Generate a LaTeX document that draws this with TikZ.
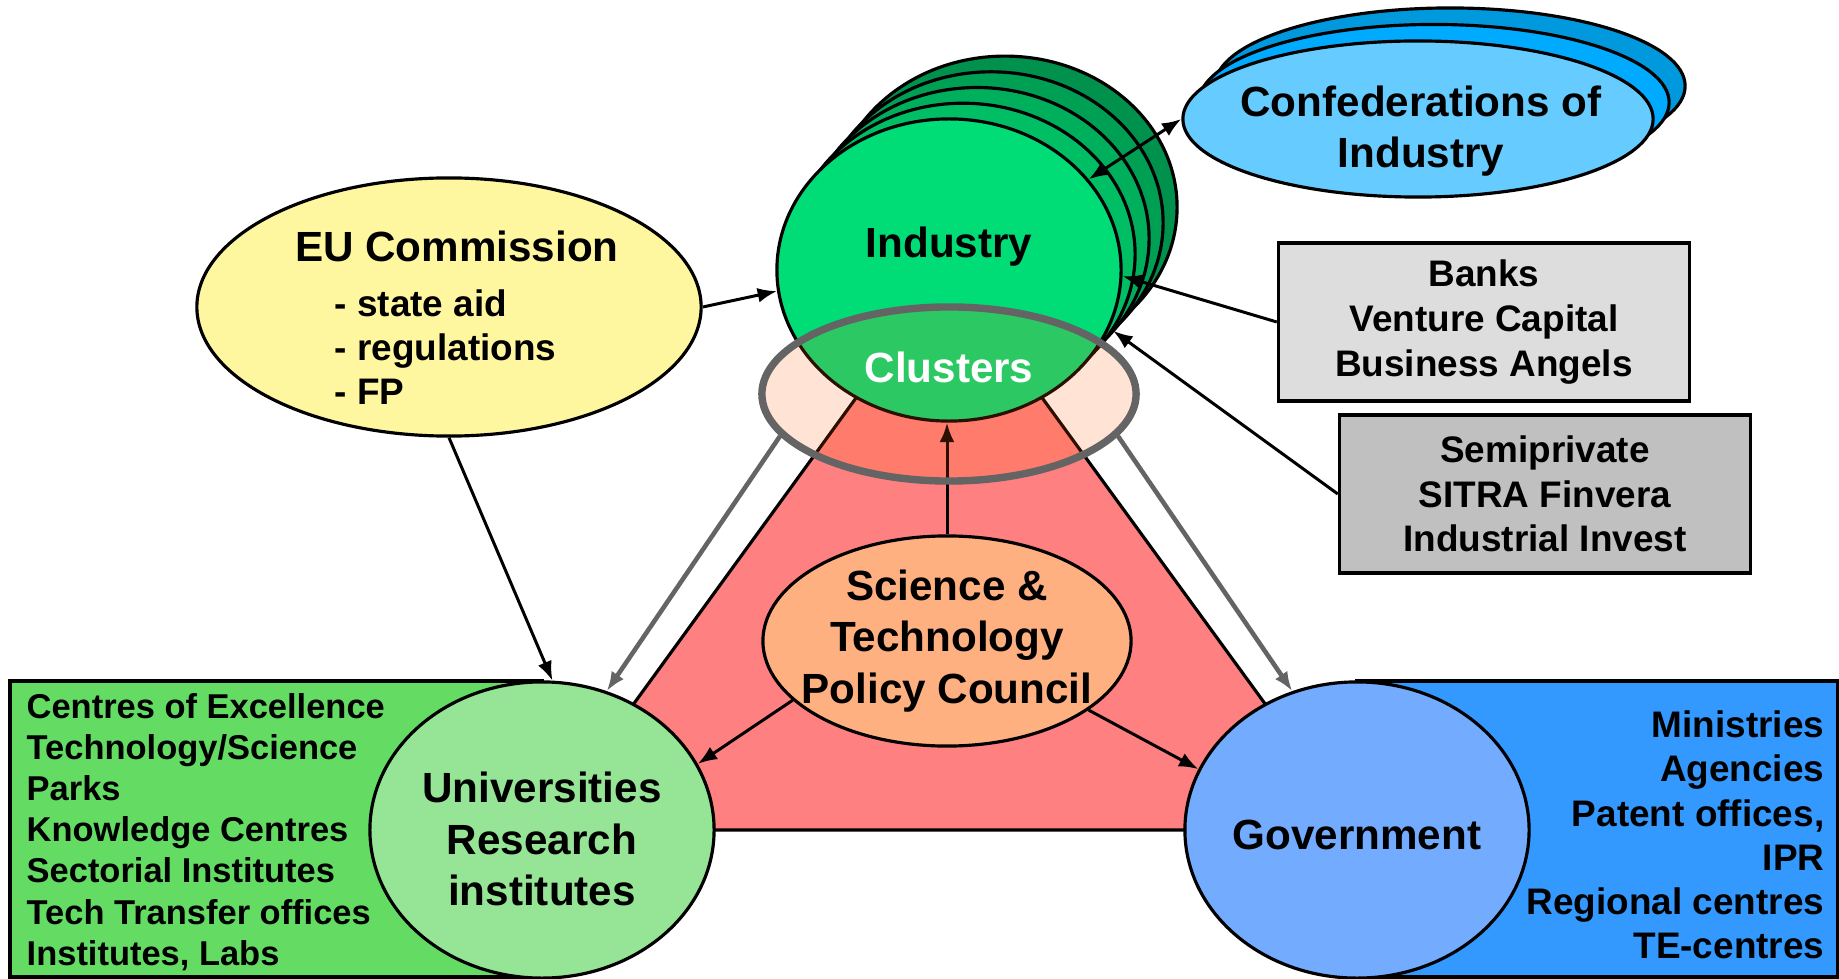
\documentclass[tikz,border=0pt]{standalone}
\usepackage{fontspec}
\setmainfont{Liberation Sans}
\usetikzlibrary{arrows.meta,shapes.geometric}
\definecolor{tricol}{RGB}{255,128,128}
\definecolor{uboxcol}{RGB}{100,220,100}
\definecolor{univcol}{RGB}{150,228,150}
\definecolor{gboxcol}{RGB}{51,153,255}
\definecolor{govcol}{RGB}{115,172,255}
\definecolor{stcol}{RGB}{255,176,128}
\definecolor{eucol}{RGB}{255,247,160}
\definecolor{indA}{RGB}{0,221,119}
\definecolor{indB}{RGB}{0,190,100}
\definecolor{indC}{RGB}{0,175,92}
\definecolor{indD}{RGB}{0,160,84}
\definecolor{indE}{RGB}{0,145,76}
\definecolor{confA}{RGB}{102,204,255}
\definecolor{confB}{RGB}{0,170,255}
\definecolor{confC}{RGB}{0,153,221}
\definecolor{bankscol}{RGB}{221,221,221}
\definecolor{semicol}{RGB}{192,192,192}
\definecolor{clufill}{RGB}{255,99,6}
\definecolor{clugrey}{RGB}{100,100,100}

\begin{document}
\begin{tikzpicture}[>={Latex[length=5.5pt,width=4.2pt]},x=0.01cm,y=-0.01cm]
		\tikzset{
			blob/.style={ellipse,draw,line width=0.9pt,inner sep=0pt},
			indblob/.style={blob,minimum width=3.44cm,minimum height=3.02cm},
			confblob/.style={blob,minimum width=4.70cm,minimum height=1.56cm},
			plate/.style={rectangle,draw,line width=0.9pt,inner sep=0pt,align=center,
				font=\bfseries\fontsize{10.5}{12.7}\selectfont,minimum width=4.11cm,minimum height=1.58cm},
			bigtxt/.style={font=\bfseries\fontsize{12}{14.6}\selectfont,align=center,inner sep=0pt},
			midtxt/.style={font=\bfseries\fontsize{10.5}{12.6}\selectfont,inner sep=0pt},
			listtxt/.style={font=\bfseries\fontsize{9.8}{11.7}\selectfont,align=left,inner sep=0pt},
			link/.style={->,line width=0.85pt},
			greylink/.style={->,line width=1.3pt,draw=clugrey}
		}
		\path[use as bounding box,fill=white] (0,0) rectangle (1839,979);
		\draw[line width=0.9pt,fill=tricol] (542,830) -- (949,270) -- (1357,830) -- cycle;
		\draw[line width=0.9pt,fill=uboxcol] (10,681) rectangle (542,977);
		\draw[line width=0.9pt,fill=gboxcol] (1357,681) rectangle (1838,977);
		\node[blob,fill=univcol,minimum width=3.44cm,minimum height=2.96cm] (univ) at (542,830) {};
		\node[blob,fill=govcol,minimum width=3.44cm,minimum height=2.96cm] (gov) at (1357,830) {};
		\node[blob,fill=stcol,minimum width=3.68cm,minimum height=2.10cm] (st) at (947,641) {};
		\node[bigtxt] (textuniv) at (542,839) {Universities\\Research\\institutes};
		\node[bigtxt] (textgov) at (1357,835) {Government};
		\node[bigtxt] (textst) at (947,641) {Science \&\\Technology\\Policy Council};
		\node[listtxt,anchor=west] (textulist) at (26,832)
			{Centres of Excellence\\Technology/Science\\Parks\\Knowledge Centres\\Sectorial Institutes\\Tech Transfer offices\\Institutes, Labs};
		\node[midtxt,align=right,anchor=east] (textglist) at (1825,835)
			{Ministries\\Agencies\\Patent offices,\\IPR\\Regional centres\\TE-centres};
		\foreach \i/\c in {4/indE,3/indD,2/indC,1/indB}
			\node[indblob,fill=\c] (ind\i) at ({949+14*\i},{270-15.7*\i}) {};
		\node[indblob,fill=indA] (ind) at (949,270) {};
		\node[bigtxt] (textind) at (949,247) {Industry};
		\draw[link] (st.north) -- (st.north |- ind.south);
		\node[ellipse,inner sep=0pt,minimum width=3.74cm,minimum height=1.74cm,
			fill=clufill,fill opacity=0.17,draw=clugrey,draw opacity=1,line width=2.1pt] (clu) at (949,394) {};
		\node[bigtxt,text=white] (textclu) at (949,367) {Clusters};
		\node[blob,fill=eucol,minimum width=5.04cm,minimum height=2.58cm] (eu) at (449,307) {};
		\node[bigtxt] (texteu) at (457,246) {EU Commission};
		\node[midtxt,align=left,anchor=west] (texteulist) at (334,347) {- state aid\\- regulations\\- FP};
		\foreach \i/\c in {2/confC,1/confB}
			\node[confblob,fill=\c] (conf\i) at ({1418+16*\i},{119-16.5*\i}) {};
		\node[confblob,fill=confA] (conf) at (1418,119) {};
		\node[bigtxt] (textconf) at (1421,131) {Confederations of\\Industry};
		\node[plate,fill=bankscol] (banks) at (1484,322) {Banks\\Venture Capital\\Business Angels};
		\node[plate,fill=semicol] (semi) at (1545,494) {Semiprivate\\SITRA Finvera\\Industrial Invest};
		\draw[link] (eu.east) -- (ind.187);
		\draw[link] (eu.south) -- (univ.86);
		\draw[<->,line width=0.85pt] (conf.west) -- (ind.33);
		\draw[link] (banks.west) -- (ind.-2);
		\draw[link] (semi.west) -- (ind1.-27);
		\draw[link] (st.201) -- (univ.23);
		\draw[link] (st.334) -- (gov.159);
		\draw[greylink] (clu.194) -- (univ.65);
		\draw[greylink] (clu.346) -- (gov.115);
\end{tikzpicture}
\end{document}
